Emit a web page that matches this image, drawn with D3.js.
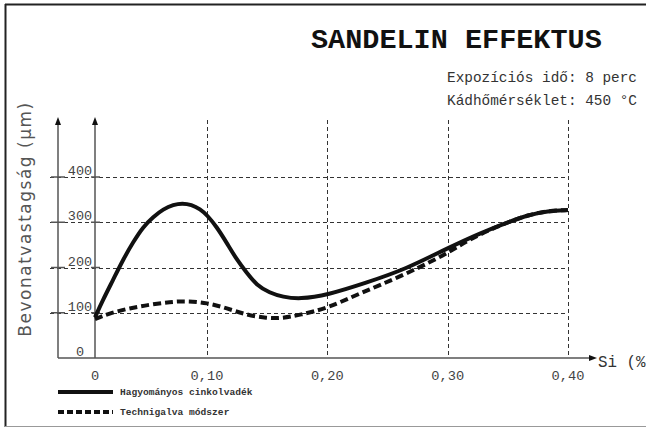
<!DOCTYPE html>
<html>
<head>
<meta charset="utf-8">
<script src="https://cdn.jsdelivr.net/npm/d3@7"></script>
<style>
  html, body { margin: 0; padding: 0; background: #fff; }
  svg { display: block; }
</style>
</head>
<body>
<svg id="chart" width="646" height="428"></svg>
<script>
// Si content (%) and coating thickness (µm)
const siTicks = [0, 0.1, 0.2, 0.3, 0.4];
const siTickLabels = ["0", "0,10", "0,20", "0,30", "0,40"];
const thicknessTicks = [0, 100, 200, 300, 400];

const hagyomanyosSi = [0, 0.007, 0.016, 0.025, 0.034, 0.043, 0.052, 0.061, 0.07, 0.078, 0.086, 0.094, 0.10, 0.108, 0.1165, 0.1248, 0.1331, 0.1413, 0.152, 0.163, 0.177, 0.20, 0.232, 0.265, 0.30, 0.327, 0.35, 0.367, 0.383, 0.40];
const hagyomanyosUm = [90, 128, 172, 217, 256, 290, 312, 329, 339, 342, 339, 329, 316, 290, 254, 217, 188, 161, 144, 135, 130, 139, 166, 196, 243, 276, 300, 316, 325, 327];

const technigalvaSi = [0, 0.013, 0.031, 0.049, 0.067, 0.082, 0.10, 0.1165, 0.133, 0.1496, 0.163, 0.177, 0.20, 0.227, 0.26, 0.294, 0.31, 0.327, 0.35, 0.367, 0.383, 0.40];
const technigalvaUm = [86, 99, 110, 118, 124, 126, 122, 110, 95, 88, 88, 95, 110, 143, 179, 223, 249, 274, 300, 316, 325, 327];

const seriesNames = ["Hagyományos cinkolvadék", "Technigalva módszer"];

const svg = d3.select("#chart");
const mono = "'Liberation Mono', 'DejaVu Sans Mono', monospace";

const x = d3.scaleLinear().domain([0, 0.1, 0.4]).range([95, 207, 568]);
const y = d3.scaleLinear().domain([0, 400]).range([358, 177]);

svg.append("rect").attr("width", 646).attr("height", 428).attr("fill", "#fff");

// frame
svg.append("line").attr("x1", 5).attr("x2", 646).attr("y1", 4.5).attr("y2", 4.5)
  .attr("stroke", "#222").attr("stroke-width", 2);
svg.append("line").attr("x1", 5.5).attr("x2", 5.5).attr("y1", 4).attr("y2", 427)
  .attr("stroke", "#222").attr("stroke-width", 2);
svg.append("line").attr("x1", 5).attr("x2", 646).attr("y1", 426.5).attr("y2", 426.5)
  .attr("stroke", "#999").attr("stroke-width", 1);

// title and conditions
svg.append("text").attr("x", 311).attr("y", 48)
  .attr("font-family", mono).attr("font-weight", "bold").attr("font-size", 28.5)
  .attr("fill", "#111").text("SANDELIN EFFEKTUS");
svg.append("text").attr("x", 447).attr("y", 82)
  .attr("font-family", mono).attr("font-size", 14.4).attr("fill", "#333")
  .text("Expozíciós idő: 8 perc");
svg.append("text").attr("x", 447).attr("y", 105)
  .attr("font-family", mono).attr("font-size", 14.4).attr("fill", "#333")
  .text("Kádhőmérséklet: 450 °C");

// grid
const grid = svg.append("g").attr("stroke", "#333").attr("stroke-width", 1)
  .attr("stroke-dasharray", "4,3");
grid.selectAll("line.h").data(thicknessTicks.filter(d => d > 0)).join("line")
  .attr("class", "h")
  .attr("x1", 50).attr("x2", x(0.4))
  .attr("y1", d => Math.round(y(d)) + 0.5).attr("y2", d => Math.round(y(d)) + 0.5);
grid.selectAll("line.v").data(siTicks.filter(d => d > 0)).join("line")
  .attr("class", "v")
  .attr("x1", d => Math.round(x(d)) + 0.5).attr("x2", d => Math.round(x(d)) + 0.5)
  .attr("y1", 120).attr("y2", y(0));

// axes
const axisColor = "#555";
const axes = svg.append("g").attr("stroke", axisColor).attr("stroke-width", 1.5);
axes.append("line").attr("x1", 58).attr("x2", 58).attr("y1", y(0)).attr("y2", 124);
axes.append("line").attr("x1", x(0)).attr("x2", x(0)).attr("y1", y(0)).attr("y2", 124);
axes.append("line").attr("x1", 58).attr("x2", 591).attr("y1", y(0)).attr("y2", y(0));
// short ticks where the grid meets the axes
thicknessTicks.filter(d => d > 0).forEach(d => {
  axes.append("line").attr("x1", 51).attr("x2", 65).attr("y1", y(d)).attr("y2", y(d));
  axes.append("line").attr("x1", x(0) - 4).attr("x2", x(0) + 5).attr("y1", y(d)).attr("y2", y(d));
});
const arrows = svg.append("g").attr("fill", "#111");
[58, x(0)].forEach(ax => {
  arrows.append("path").attr("d", `M${ax},117 L${ax - 3},125 L${ax + 3},125 Z`);
});
arrows.append("path").attr("d", `M597,${y(0)} L589,${y(0) - 3} L589,${y(0) + 3} Z`);

// tick labels
svg.append("g").selectAll("text").data(thicknessTicks).join("text")
  .attr("x", 80).attr("y", d => y(d) - 2)
  .attr("text-anchor", "middle")
  .attr("font-family", mono).attr("font-size", 13.5).attr("fill", "#444")
  .text(d => d);
svg.append("g").selectAll("text").data(siTicks).join("text")
  .attr("x", d => x(d)).attr("y", 380)
  .attr("text-anchor", "middle")
  .attr("font-family", mono).attr("font-size", 13.7).attr("fill", "#444")
  .text((d, i) => siTickLabels[i]);

// axis titles
svg.append("text").attr("x", 598).attr("y", 367)
  .attr("font-family", mono).attr("font-size", 15.8).attr("fill", "#333")
  .text("Si (%");
svg.append("text")
  .attr("transform", "translate(31,219) rotate(-90)")
  .attr("text-anchor", "middle")
  .attr("font-family", "'DejaVu Sans', Verdana, sans-serif").attr("font-size", 17)
  .attr("letter-spacing", 1.5).attr("fill", "#555")
  .text("Bevonatvastagság  (µm)");

// curves (B-spline through the read-off points)
const line = d3.line().x(d => x(d[0])).y(d => y(d[1])).curve(d3.curveBasis);
const dashedPts = technigalvaSi.map((s, i) => [s, technigalvaUm[i]]);
const solidPts = hagyomanyosSi.map((s, i) => [s, hagyomanyosUm[i]]);
svg.append("path").attr("d", line(dashedPts)).attr("fill", "none")
  .attr("stroke", "#111").attr("stroke-width", 4).attr("stroke-dasharray", "8,4");
svg.append("path").attr("d", line(solidPts)).attr("fill", "none")
  .attr("stroke", "#111").attr("stroke-width", 4);

// legend
const legend = svg.append("g");
[0, 1].forEach(i => {
  const ly = 392 + i * 20;
  legend.append("line").attr("x1", 58).attr("x2", 113).attr("y1", ly).attr("y2", ly)
    .attr("stroke", "#111").attr("stroke-width", 4)
    .attr("stroke-dasharray", i === 1 ? "6,3" : null);
  legend.append("text").attr("x", 120).attr("y", ly + 3)
    .attr("font-family", mono).attr("font-weight", "bold").attr("font-size", 9.6)
    .attr("fill", "#333").text(seriesNames[i]);
});
</script>
</body>
</html>
